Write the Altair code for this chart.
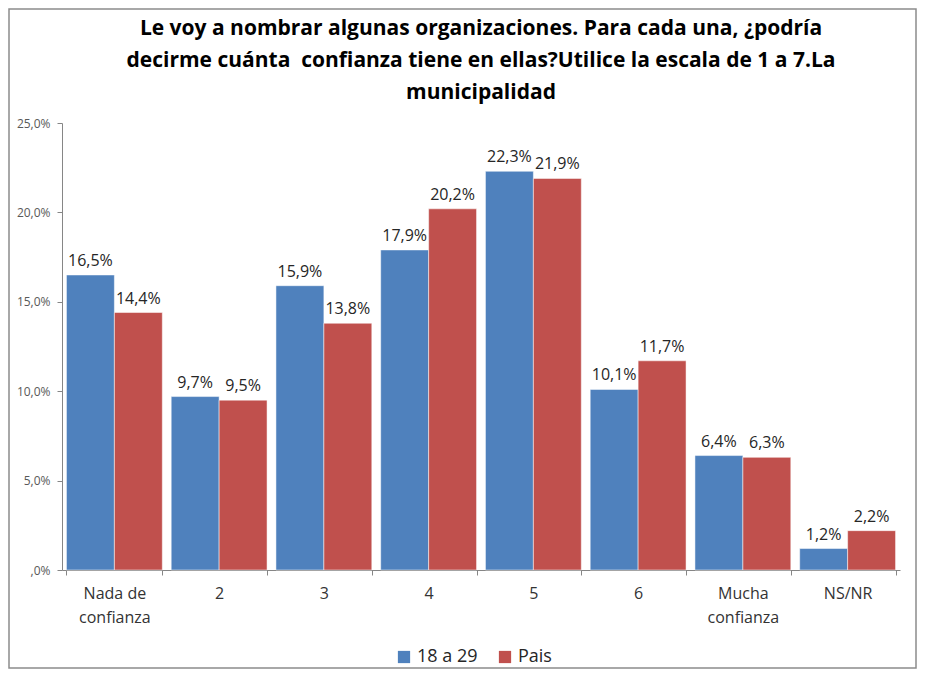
import altair as alt
import pandas as pd

categories = ["Nada de confianza", "2", "3", "4", "5", "6", "Mucha confianza", "NS/NR"]
series_names = ["18 a 29", "Pais"]
values_18_29 = [16.5, 9.7, 15.9, 17.9, 22.3, 10.1, 6.4, 1.2]
values_pais = [14.4, 9.5, 13.8, 20.2, 21.9, 11.7, 6.3, 2.2]
y_ticks = [0, 5, 10, 15, 20, 25]
colors = ["#4F81BD", "#C0504D"]
title_lines = [
    "Le voy a nombrar algunas organizaciones. Para cada una, ¿podría",
    "decirme cuánta\u00a0 confianza tiene en ellas?Utilice la escala de 1 a 7.La",
    "municipalidad",
]

rows = []
for c, v in zip(categories, values_18_29):
    rows.append({"cat": c, "serie": series_names[0], "v": v})
for c, v in zip(categories, values_pais):
    rows.append({"cat": c, "serie": series_names[1], "v": v})
df = pd.DataFrame(rows)

FONT = "Open Sans"

x_enc = alt.X(
    "cat:N",
    sort=categories,
    title=None,
    scale=alt.Scale(paddingInner=0.085, paddingOuter=0.0425),
    axis=alt.Axis(
        labelAngle=0,
        labelFontSize=16,
        labelColor="#333333",
        labelFont=FONT,
        labelPadding=10,
        labelLineHeight=24,
        labelExpr="datum.value == 'Nada de confianza' ? ['Nada de', 'confianza'] : datum.value == 'Mucha confianza' ? ['Mucha', 'confianza'] : datum.value",
        tickBand="extent",
        tickSize=5,
        tickColor="#868686",
        domainColor="#868686",
    ),
)
y_enc = alt.Y(
    "v:Q",
    title=None,
    scale=alt.Scale(domain=[0, 25], nice=False),
    axis=alt.Axis(
        values=y_ticks,
        grid=False,
        labelFontSize=12,
        labelColor="#595959",
        labelFont=FONT,
        labelPadding=7,
        tickSize=5,
        tickColor="#868686",
        domainColor="#868686",
        labelExpr="datum.value == 0 ? ',0%' : replace(format(datum.value, '.1f'), '.', ',') + '%'",
    ),
)
xoff = alt.XOffset("serie:N", sort=series_names)

base = alt.Chart(df)

bars = base.mark_bar(stroke="white", strokeWidth=0.5).encode(
    x=x_enc,
    xOffset=xoff,
    y=y_enc,
    color=alt.Color(
        "serie:N",
        sort=series_names,
        scale=alt.Scale(domain=series_names, range=colors),
        legend=alt.Legend(
            title=None,
            orient="none",
            direction="horizontal",
            legendX=333,
            legendY=525,
            symbolType="square",
            symbolSize=150,
            symbolStrokeWidth=0,
            labelFontSize=18,
            labelFont=FONT,
            labelColor="#262626",
            columnPadding=18,
        ),
    ),
)

labels = base.transform_calculate(
    txt="replace(format(datum.v, '.1f'), '.', ',') + '%'"
).mark_text(baseline="bottom", dy=-6, fontSize=16, font=FONT, color="#262626").encode(
    x=alt.X("cat:N", sort=categories),
    xOffset=xoff,
    y=alt.Y("v:Q"),
    text="txt:N",
)

one = pd.DataFrame({"a": [0]})

border = alt.Chart(one).mark_rect(
    fill=None, stroke="#8c8c8c", strokeWidth=1.5
).encode(x=alt.value(-53), x2=alt.value(854), y=alt.value(-114), y2=alt.value(545))

title = alt.Chart(one).mark_text(
    fontSize=21, font=FONT, fontWeight="bold", color="#000000",
    align="center", baseline="alphabetic", lineHeight=32,
).encode(x=alt.value(419), y=alt.value(-88), text=alt.value(title_lines))

chart = alt.layer(bars, labels, border, title).properties(
    width=838,
    height=447,
    autosize=alt.AutoSizeParams(type="none"),
    padding={"left": 54, "top": 115, "right": 17, "bottom": 99},
).configure(background="white").configure_view(stroke=None)

chart.save("out.html", embed_options={"renderer": "svg", "actions": False})
